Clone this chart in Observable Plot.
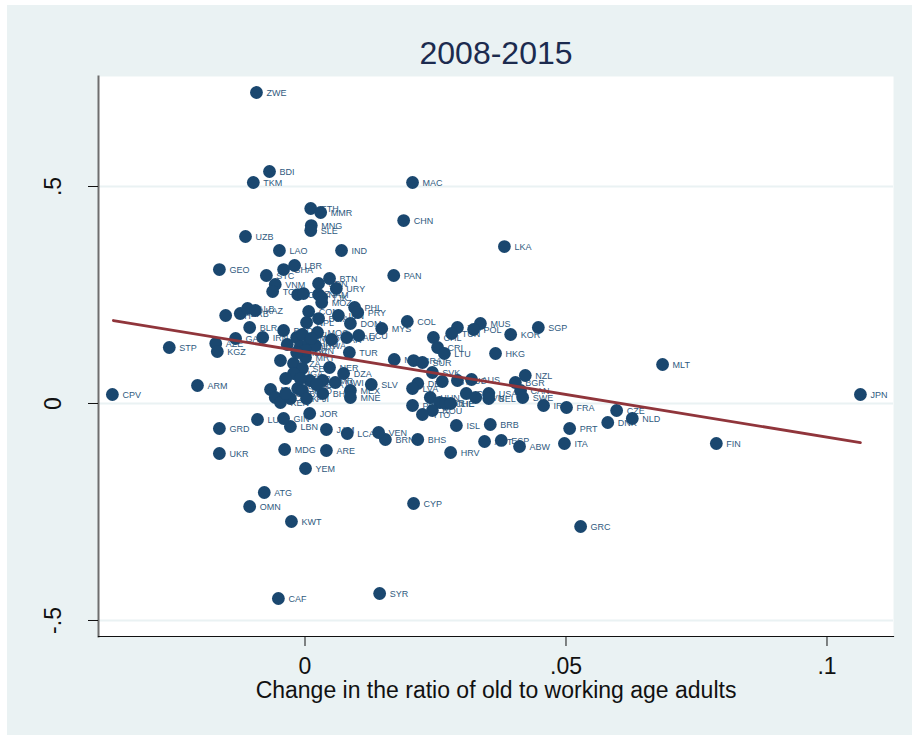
<!DOCTYPE html>
<html>
<head>
<meta charset="utf-8">
<style>html,body{margin:0;padding:0;background:#fff}body{padding:5px 0 0 7px}svg{display:block}</style>
<script src="https://cdn.jsdelivr.net/npm/d3@7"></script>
<script src="https://cdn.jsdelivr.net/npm/@observablehq/plot@0.6"></script>
</head>
<body>
<script>
const titleText = "2008-2015";
const xLabel = "Change in the ratio of old to working age adults";
const xTicks = [0, 0.05, 0.1];
const xTickLabels = ["0", ".05", ".1"];
const yTicks = [-0.5, 0, 0.5];
const yTickLabels = ["-.5", "0", ".5"];
const fitX = [-0.0367, 0.1064];
const fitY = [0.1912, -0.09];
const codes = ["ZWE","BDI","TKM","MAC","ETH","MMR","MNG","SLE","CHN","LKA","UZB","LAO","IND","GEO","LBR","GHA","STC","VNM","TON","BTN","PAN","SDN","URY","CIV","BLZ","NAM","TJK","MOZ","COM","PHL","PRY",
"COL","MUS","SGP","THA","TUN","POL","KOR","CHL","CRI","LTU","HKG","MLT","MKD","BRA","SUR","SVK","NZL","DEU","LVA","EST","RUS","AUS","BGR","CAN","SWE","IRL","FRA","USA","BEL","GBR","SVN","HUN","PER","ISR","CHE","LIE","ROU","TTO","ISL","BRB","CZE","NLD","DNK","PRT","ITA","FIN","JPN","ABW","ESP","AUT","HRV","BHS","BRN","VEN","LCA","JAM","ARE","MDG","YEM","LBN","GIN","LUX","JOR","GRD","UKR","ATG","OMN","KWT","CYP","GRC","CAF","SYR","CPV","ARM","STP","AZE","KGZ","GAB","BLR","IRN","BIH","SRB","ALB","KAZ","BGD","GTM","KHM","NPL","BOL","HND","RWA","MOC","MAR","SAU","ECU","DOM","MYS","TUR","BWA","IDN","MRT","LSO","TZA","SEN","NER","UGA","DZA","ZMB","PNG","CMR","MWI","SLV","MEX","MNE","BHR","SWZ","MLI","NIC","KEN","PAK","TGO","HTI","TCD","BEN","MDV","GMB","BFA","GNB","FJI"];
const xValues = [-.0093,-.0068,-.0099,.0206,.0011,.0030,.0012,.0011,.0189,.0382,-.0114,-.0049,.0070,-.0164,-.0020,-.0041,-.0074,-.0057,-.0062,.0047,.0170,.0026,.0060,-.0014,-.0003,.0026,.0032,.0032,.0007,.0095,.0101,
.0196,.0336,.0447,.0292,.0281,.0323,.0394,.0246,.0254,.0267,.0365,.0685,.0171,.0208,.0225,.0244,.0422,.0216,.0206,.0263,.0292,.0319,.0403,.0413,.0417,.0457,.0501,.0352,.0352,.0309,.0327,.0240,.0206,.0258,.0269,.0279,.0244,.0225,.0290,.0355,.0597,.0627,.0580,.0507,.0497,.0788,.1064,.0411,.0376,.0344,.0279,.0216,.0154,.0141,.0081,.0041,.0041,-.0039,.0001,-.0028,-.0041,-.0091,.0009,-.0164,-.0164,-.0078,-.0106,-.0026,.0208,.0528,-.0051,.0143,-.0369,-.0206,-.0260,-.0171,-.0168,-.0133,-.0106,-.0081,-.0152,-.0124,-.0110,-.0095,-.0041,-.0034,-.0016,.0003,-.0009,.0007,.0020,.0024,.0051,.0080,.0103,.0087,.0147,.0085,.0026,.0064,.0001,-.0047,-.0022,-.0005,.0047,-.0022,.0074,-.0037,.0009,.0034,.0058,.0127,.0087,.0087,.0034,-.0014,-.0066,-.0057,-.0047,-.0028,-.0005,-.0005,.0012,.0001,-.0016,-.0009,.0022,-.0037,.0003];
const yValues = [.7166,.5346,.5092,.5092,.4493,.4401,.4101,.3986,.4216,.3617,.3848,.3525,.3525,.3087,.3180,.3087,.2949,.2742,.2580,.2880,.2949,.2765,.2650,.2511,.2534,.2511,.2442,.2327,.2120,.2212,.2097,
.1889,.1843,.1751,.1751,.1613,.1705,.1590,.1521,.1290,.1152,.1152,.0899,.1014,.0990,.0945,.0714,.0645,.0461,.0346,.0507,.0530,.0553,.0484,.0300,.0138,-.0046,-.0092,.0230,.0115,.0230,.0138,.0138,-.0046,.0023,0,0,-.0161,-.0253,-.0507,-.0484,-.0161,-.0346,-.0438,-.0576,-.0922,-.0922,.0207,-.0991,-.0852,-.0876,-.1129,-.0829,-.0829,-.0668,-.0691,-.0599,-.1083,-.1060,-.1498,-.0530,-.0346,-.0369,-.0230,-.0576,-.1152,-.2051,-.2373,-.2719,-.2304,-.2834,-.4493,-.4378,.0207,.0415,.1290,.1382,.1198,.1498,.1751,.1521,.2028,.2074,.2189,.2143,.1682,.1359,.1521,.1866,.1313,.1382,.1336,.1636,.1475,.1521,.1567,.1843,.1728,.1175,.1958,.2028,.1060,.0991,.0922,.0806,.0829,.0691,.0691,.0576,.0530,.0530,.0484,.0438,.0300,.0138,.0230,.0346,.0323,.0138,.0023,.0115,.0300,.1590,.1498,.1221,.1175,.0576,.0438,.0230,.0115];

const navy = "#1a476f";
const labelColor = "#2f5a80";
const maroon = "#90353b";
const panel = "#eaf2f3";
const rows = codes.map((code, i) => ({code, x: xValues[i], y: yValues[i]}));
const fit = fitX.map((x, i) => ({x, y: fitY[i]}));

const chart = Plot.plot({
  width: 905, height: 730,
  marginLeft: 91, marginRight: 19, marginTop: 71, marginBottom: 99,
  style: {background: panel, fontFamily: "'Liberation Sans', Arial, sans-serif", overflow: "visible"},
  x: {domain: [-0.03956, 0.11274], label: null},
  y: {domain: [-0.5369, 0.7535], label: null},
  marks: [
    Plot.frame({fill: "white", stroke: "none"}),
    Plot.ruleY(yTicks, {stroke: panel, strokeWidth: 2}),
    Plot.frame({anchor: "left", stroke: "#6e6e6e", strokeWidth: 2, strokeOpacity: 1}),
    Plot.frame({anchor: "bottom", stroke: "#111", strokeWidth: 1.2, strokeOpacity: 1}),
    Plot.axisX({ticks: xTicks, tickFormat: (d) => xTickLabels[xTicks.indexOf(d)], tickSize: 10, tickPadding: 11, fontSize: 23, stroke: "#111", color: "#111",
      label: xLabel, labelAnchor: "center", labelArrow: "none", labelOffset: 61}),
    Plot.axisY({ticks: yTicks, tickFormat: (d) => yTickLabels[yTicks.indexOf(d)], tickSize: 10, tickPadding: 28, tickRotate: -90, fontSize: 23, stroke: "#111", color: "#111", label: null, textAnchor: "middle"}),
    Plot.text(rows, {x: "x", y: "y", text: "code", dx: 10, dy: 1, textAnchor: "start", fontSize: 9, fill: labelColor}),
    Plot.dot(rows, {x: "x", y: "y", r: 6.4, fill: navy, stroke: "none"}),
    Plot.line(fit, {x: "x", y: "y", stroke: maroon, strokeWidth: 2.8}),
    Plot.text([titleText], {frameAnchor: "top", dy: -23, lineAnchor: "middle", fontSize: 32, fill: "#1c2b4f"})
  ]
});
document.body.appendChild(chart);
</script>
</body>
</html>
